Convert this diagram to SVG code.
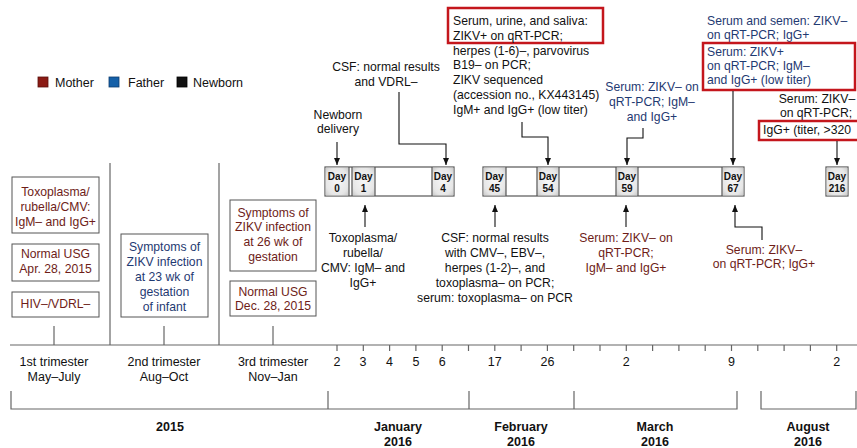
<svg xmlns="http://www.w3.org/2000/svg" width="857" height="448" viewBox="0 0 857 448">
<defs>
<marker id="ah" markerWidth="8" markerHeight="8" refX="7" refY="4" orient="auto" markerUnits="userSpaceOnUse">
<path d="M0,1 L7,4 L0,7 Z" fill="#111"/>
</marker>
<radialGradient id="cell" cx="0.5" cy="0.5" r="0.7">
<stop offset="0" stop-color="#f6f6f6"/>
<stop offset="0.7" stop-color="#e6e6e6"/>
<stop offset="1" stop-color="#c9c9c9"/>
</radialGradient>
<style>
text{font-family:"Liberation Sans",Arial,sans-serif;font-size:12.2px;fill:#111}
.m{fill:#6e1d18}
.f{fill:#1f3a72}
.c{text-anchor:middle}
.box{fill:#fff;stroke:#555;stroke-width:1}
.red{fill:none;stroke:#c4161c;stroke-width:2.5}
.ax{stroke:#666;stroke-width:1.2;fill:none}
.con{stroke:#111;stroke-width:1.1;fill:none}
.day{font-size:10px;font-weight:bold;text-anchor:middle}
.cellr{fill:url(#cell);stroke:none}
.tl{fill:#fff;stroke:#555;stroke-width:1.2}
.yr{font-weight:bold;font-size:12.5px;text-anchor:middle}
.lg{font-size:12.5px}
.tk{font-size:12.5px;text-anchor:middle}
</style>
</defs>

<g id="legend">
<rect x="38" y="77" width="10" height="10" fill="#8b1b14" stroke="#5a0f0b" stroke-width="0.8"/>
<text class="lg" x="55" y="87">Mother</text>
<rect x="109" y="77" width="10" height="10" fill="#1560a8" stroke="#0d3d6e" stroke-width="0.8"/>
<text class="lg" x="128" y="87">Father</text>
<rect x="177" y="77" width="10" height="10" fill="#111" stroke="#000" stroke-width="0.8"/>
<text class="lg" x="193" y="87">Newborn</text>
</g>

<g id="axis">
<line class="ax" x1="10" y1="345" x2="857" y2="345"/>
<line class="ax" x1="110" y1="163" x2="110" y2="345"/>
<line class="ax" x1="219" y1="163" x2="219" y2="345"/>
<line class="ax" x1="54" y1="326" x2="54" y2="345"/>
<line class="ax" x1="164" y1="326" x2="164" y2="345"/>
<line class="ax" x1="273" y1="326" x2="273" y2="345"/>
<path class="ax" d="M337,345v6M363.3,345v6M389.6,345v6M415.9,345v6M442.2,345v6M468.5,345v6M494.8,345v6M521.1,345v6M547.4,345v6M573.7,345v6M600,345v6M626.3,345v6M652.6,345v6M678.9,345v6M705.2,345v6M731.5,345v6M757.8,345v6M784.1,345v6M810.4,345v6M836.7,345v6"/>
<text class="tk" x="54" y="366">1st trimester</text>
<text class="tk" x="54" y="381">May–July</text>
<text class="tk" x="164" y="366">2nd trimester</text>
<text class="tk" x="164" y="381">Aug–Oct</text>
<text class="tk" x="273" y="366">3rd trimester</text>
<text class="tk" x="273" y="381">Nov–Jan</text>
<text class="tk" x="337" y="366">2</text>
<text class="tk" x="363" y="366">3</text>
<text class="tk" x="389.6" y="366">4</text>
<text class="tk" x="415.9" y="366">5</text>
<text class="tk" x="442.2" y="366">6</text>
<text class="tk" x="494.8" y="366">17</text>
<text class="tk" x="547.4" y="366">26</text>
<text class="tk" x="626.3" y="366">2</text>
<text class="tk" x="731.5" y="366">9</text>
<text class="tk" x="836.7" y="366">2</text>
<path class="ax" d="M11,391V409H328V391M328,409H469V391M469,409H574V391M574,409H737V391M761,391V409H856V391"/>
<text class="yr" x="170" y="431">2015</text>
<text class="yr" x="398" y="431">January</text>
<text class="yr" x="398" y="446">2016</text>
<text class="yr" x="521" y="431">February</text>
<text class="yr" x="521" y="446">2016</text>
<text class="yr" x="655" y="431">March</text>
<text class="yr" x="655" y="446">2016</text>
<text class="yr" x="808" y="431">August</text>
<text class="yr" x="808" y="446">2016</text>
</g>

<g id="mother-torch">
<rect class="box" x="12" y="177" width="87" height="56"/>
<text class="m c" x="55.5" y="196">Toxoplasma/</text>
<text class="m c" x="55.5" y="211">rubella/CMV:</text>
<text class="m c" x="55.5" y="226">IgM– and IgG+</text>
</g>
<g id="mother-usg1">
<rect class="box" x="12" y="244" width="87" height="37"/>
<text class="m c" x="55.5" y="258">Normal USG</text>
<text class="m c" x="55.5" y="273">Apr. 28, 2015</text>
</g>
<g id="mother-hiv">
<rect class="box" x="12" y="292" width="87" height="25"/>
<text class="m c" x="55.5" y="308">HIV–/VDRL–</text>
</g>
<g id="father-symptoms">
<rect class="box" x="121" y="234" width="87" height="83"/>
<text class="f c" x="164.5" y="251">Symptoms of</text>
<text class="f c" x="164.5" y="266">ZIKV infection</text>
<text class="f c" x="164.5" y="281">at 23 wk of</text>
<text class="f c" x="164.5" y="296">gestation</text>
<text class="f c" x="164.5" y="311">of infant</text>
</g>
<g id="mother-symptoms">
<rect class="box" x="230" y="200" width="86" height="71"/>
<text class="m c" x="273" y="217">Symptoms of</text>
<text class="m c" x="273" y="231">ZIKV infection</text>
<text class="m c" x="273" y="246">at 26 wk of</text>
<text class="m c" x="273" y="261">gestation</text>
</g>
<g id="mother-usg2">
<rect class="box" x="230" y="281" width="86" height="35"/>
<text class="m c" x="273" y="296">Normal USG</text>
<text class="m c" x="273" y="310">Dec. 28, 2015</text>
</g>

<g id="days-1">
<rect class="tl" x="325" y="167" width="129" height="29"/>
<rect class="cellr" x="325.6" y="167.6" width="23" height="27.8"/>
<rect class="cellr" x="352.4" y="167.6" width="22.2" height="27.8"/>
<rect class="cellr" x="432.4" y="167.6" width="21" height="27.8"/>
<path d="M349,167V196M352,167V196M375,167V196M432,167V196" stroke="#555" stroke-width="1.2"/>
<text class="day" x="337" y="180">Day</text><text class="day" x="337" y="192">0</text>
<text class="day" x="363.5" y="180">Day</text><text class="day" x="363.5" y="192">1</text>
<text class="day" x="443" y="180">Day</text><text class="day" x="443" y="192">4</text>
</g>
<g id="days-2">
<rect class="tl" x="483" y="167" width="261" height="29"/>
<rect class="cellr" x="483.6" y="167.6" width="22.4" height="27.8"/>
<rect class="cellr" x="537.4" y="167.6" width="21.2" height="27.8"/>
<rect class="cellr" x="616.4" y="167.6" width="21.2" height="27.8"/>
<rect class="cellr" x="722.4" y="167.6" width="21" height="27.8"/>
<path d="M506,167V196M537,167V196M559,167V196M616,167V196M638,167V196M722,167V196" stroke="#555" stroke-width="1.2"/>
<text class="day" x="494.5" y="180">Day</text><text class="day" x="494.5" y="192">45</text>
<text class="day" x="548" y="180">Day</text><text class="day" x="548" y="192">54</text>
<text class="day" x="627" y="180">Day</text><text class="day" x="627" y="192">59</text>
<text class="day" x="733" y="180">Day</text><text class="day" x="733" y="192">67</text>
</g>
<g id="days-3">
<rect class="tl" x="826" y="167" width="22" height="29"/>
<rect class="cellr" x="826.6" y="167.6" width="20.8" height="27.8"/>
<text class="day" x="837" y="180">Day</text><text class="day" x="837" y="192">216</text>
</g>

<g id="note-delivery">
<text class="c" x="338" y="119">Newborn</text>
<text class="c" x="338" y="133">delivery</text>
</g>
<g id="note-csf1">
<text class="c" x="386" y="71">CSF: normal results</text>
<text class="c" x="386" y="86">and VDRL–</text>
</g>
<g id="note-day54">
<rect class="red" x="448" y="8" width="155" height="35"/>
<text x="453" y="25">Serum, urine, and saliva:</text>
<text x="453" y="40">ZIKV+ on qRT-PCR;</text>
<text x="453" y="55">herpes (1-6)–, parvovirus</text>
<text x="453" y="69">B19– on PCR;</text>
<text x="453" y="84">ZIKV sequenced</text>
<text x="453" y="99">(accession no., KX443145)</text>
<text x="453" y="114">IgM+ and IgG+ (low titer)</text>
</g>
<g id="note-father-day59">
<text class="f c" x="652" y="91">Serum: ZIKV– on</text>
<text class="f c" x="652" y="106">qRT-PCR; IgM–</text>
<text class="f c" x="652" y="121">and IgG+</text>
</g>
<g id="note-father-day67">
<text class="f" x="707" y="25">Serum and semen: ZIKV–</text>
<text class="f" x="707" y="39">on qRT-PCR; IgG+</text>
<rect class="red" x="703" y="43" width="152" height="47"/>
<text class="f" x="707" y="56">Serum: ZIKV+</text>
<text class="f" x="707" y="70">on qRT-PCR; IgM–</text>
<text class="f" x="707" y="84">and IgG+ (low titer)</text>
</g>
<g id="note-day216">
<text class="c" x="817" y="103">Serum: ZIKV–</text>
<text class="c" x="816" y="117">on qRT-PCR;</text>
<rect class="red" x="759" y="121" width="104" height="19"/>
<text x="763" y="134">IgG+ (titer, &gt;320</text>
</g>
<g id="note-day1">
<text class="c" x="363" y="242">Toxoplasma/</text>
<text class="c" x="363" y="257">rubella/</text>
<text class="c" x="363" y="272">CMV: IgM– and</text>
<text class="c" x="363" y="287">IgG+</text>
</g>
<g id="note-day45">
<text class="c" x="495" y="242">CSF: normal results</text>
<text class="c" x="495" y="257">with CMV–, EBV–,</text>
<text class="c" x="495" y="272">herpes (1-2)–, and</text>
<text class="c" x="495" y="287">toxoplasma– on PCR;</text>
<text class="c" x="495" y="302">serum: toxoplasma– on PCR</text>
</g>
<g id="note-mother-day59">
<text class="m c" x="626" y="242">Serum: ZIKV– on</text>
<text class="m c" x="626" y="257">qRT-PCR;</text>
<text class="m c" x="626" y="272">IgM– and IgG+</text>
</g>
<g id="note-mother-day67">
<text class="m c" x="764" y="254">Serum: ZIKV–</text>
<text class="m c" x="764" y="268">on qRT-PCR; IgG+</text>
</g>

<g id="connectors">
<path class="con" d="M337,142V165" marker-end="url(#ah)"/>
<path class="con" d="M399,92V144H446V165" marker-end="url(#ah)"/>
<path class="con" d="M522,122V137H548V165" marker-end="url(#ah)"/>
<path class="con" d="M643,128V138H627V165" marker-end="url(#ah)"/>
<path class="con" d="M733,91V165" marker-end="url(#ah)"/>
<path class="con" d="M837,141V165" marker-end="url(#ah)"/>
<path class="con" d="M365,227V205" marker-end="url(#ah)"/>
<path class="con" d="M495,227V205" marker-end="url(#ah)"/>
<path class="con" d="M626,227V205" marker-end="url(#ah)"/>
<path class="con" d="M762,240V227H735V205" marker-end="url(#ah)"/>
</g>
</svg>
